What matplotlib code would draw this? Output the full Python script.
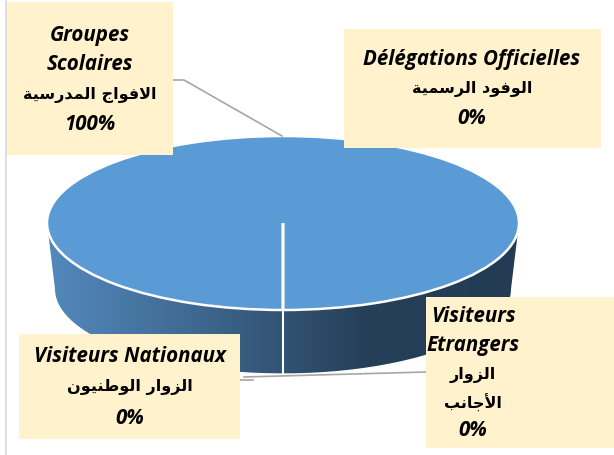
import numpy as np
import matplotlib
matplotlib.use("Agg")
import matplotlib.pyplot as plt
from matplotlib.path import Path
from matplotlib.transforms import Affine2D
from matplotlib.colors import LinearSegmentedColormap

# data
categories_fr = ["Groupes\nScolaires", "Délégations Officielles", "Visiteurs\nEtrangers", "Visiteurs Nationaux"]
categories_ar = ["الافواج المدرسية", "الوفود الرسمية", "الزوار\nالأجانب", "الزوار الوطنيون"]
values = [100, 0, 0, 0]

# --- tiny arabic shaper (matplotlib has no text shaping) ---
FORMS = {  # isolated, final, initial, medial
    "ا": (0xFE8D, 0xFE8E), "أ": (0xFE83, 0xFE84),
    "ب": (0xFE8F, 0xFE90, 0xFE91, 0xFE92), "ة": (0xFE93, 0xFE94),
    "ج": (0xFE9D, 0xFE9E, 0xFE9F, 0xFEA0), "د": (0xFEA9, 0xFEAA),
    "ر": (0xFEAD, 0xFEAE), "ز": (0xFEAF, 0xFEB0),
    "س": (0xFEB1, 0xFEB2, 0xFEB3, 0xFEB4), "ط": (0xFEC1, 0xFEC2, 0xFEC3, 0xFEC4),
    "ف": (0xFED1, 0xFED2, 0xFED3, 0xFED4), "ل": (0xFEDD, 0xFEDE, 0xFEDF, 0xFEE0),
    "م": (0xFEE1, 0xFEE2, 0xFEE3, 0xFEE4), "ن": (0xFEE5, 0xFEE6, 0xFEE7, 0xFEE8),
    "و": (0xFEED, 0xFEEE), "ي": (0xFEF1, 0xFEF2, 0xFEF3, 0xFEF4),
}
LAMALEF = {"ا": (0xFEFB, 0xFEFC), "أ": (0xFEF7, 0xFEF8)}


def shape(line):
    chars = list(line)
    out = []
    i = 0
    while i < len(chars):
        c = chars[i]
        prev = chars[i - 1] if i > 0 else " "
        joins_prev = prev in FORMS and len(FORMS[prev]) == 4 and c in FORMS
        if c == "ل" and i + 1 < len(chars) and chars[i + 1] in LAMALEF:
            out.append(chr(LAMALEF[chars[i + 1]][1 if joins_prev else 0]))
            i += 2
            continue
        if c not in FORMS:
            out.append(c)
            i += 1
            continue
        f = FORMS[c]
        nxt = chars[i + 1] if i + 1 < len(chars) else " "
        joins_next = len(f) == 4 and nxt in FORMS
        if joins_prev and joins_next:
            out.append(chr(f[3]))
        elif joins_prev:
            out.append(chr(f[1]))
        elif joins_next:
            out.append(chr(f[2]))
        else:
            out.append(chr(f[0]))
        i += 1
    return "".join(out)[::-1]


def ar(text):
    return "\n".join(shape(l) for l in text.split("\n"))


fig = plt.figure(figsize=(6.14, 4.55), dpi=100)
ax = fig.add_axes([0, 0, 1, 1])
ax.set_xlim(0, 614)
ax.set_ylim(455, 0)
ax.axis("off")

cx, cy, rx, ry, depth = 283, 223, 236, 87, 66
top_tr = Affine2D().scale(rx, -ry).translate(cx, cy) + ax.transData

# side wall with gradient
t = np.linspace(0, np.pi, 100)
bot_rx = rx - 8
lower = np.column_stack([cx - bot_rx * np.cos(t), cy + depth + ry * 0.97 * np.sin(t)])
upper = np.column_stack([cx + rx * np.cos(t), cy + ry * np.sin(t) * 0.2])
side = Path(np.vstack([[[cx - rx, cy]], lower, [[cx + rx, cy]], upper[1:]]))
cmap = LinearSegmentedColormap.from_list("side", ["#5389BD", "#3D668D", "#26405A", "#233B54"])
grad = np.linspace(0, 1, 256).reshape(1, -1)
im = ax.imshow(grad, cmap=cmap, extent=(cx - rx, cx + rx, cy + depth + ry, cy), aspect="auto", zorder=1)
im.set_clip_path(side, transform=ax.transData)
ax.plot([cx, cx], [cy + ry, cy + ry + depth], color="white", lw=1.5, zorder=2)

# top face
wedges, _ = ax.pie(values, startangle=270, counterclock=False, colors=["#5B9BD5"] * 4,
                   wedgeprops=dict(edgecolor="white", linewidth=1.8))
for w in wedges:
    w.set_transform(top_tr)
    w.set_zorder(3)
ax.set_xlim(0, 614)
ax.set_ylim(455, 0)
ax.set_aspect("auto")

# leader lines
ax.plot([173, 184, 282], [80, 80, 136], color="#A6A6A6", lw=1.2, zorder=4)
ax.plot([426, 244], [372, 377], color="#A6A6A6", lw=1.2, zorder=4)
ax.plot([240, 253], [380, 380], color="#A6A6A6", lw=1.2, zorder=4)

# chart frame line on the left
ax.plot([6, 6], [0, 455], color="#D9D9D9", lw=1.2, zorder=0)

box = "#FFF2CC"


def label(x0, y0, x1, y1, lines):
    ax.add_patch(plt.Rectangle((x0, y0), x1 - x0, y1 - y0, facecolor=box, edgecolor="none", zorder=5))
    for text, xx, yy, is_ar in lines:
        if is_ar:
            ax.text(xx, yy, text, ha="center", va="center", fontsize=11.5, fontweight="bold",
                    family="DejaVu Sans", zorder=6)
        else:
            ax.text(xx, yy, text, ha="center", va="center", fontsize=14.8, fontweight="bold",
                    fontstyle="italic", family="Open Sans", zorder=6)


label(7, 2, 173, 155, [("Groupes", 90, 36, False), ("Scolaires", 90, 65, False),
                       (ar(categories_ar[0]), 90, 95, True), (f"{values[0]}%", 90, 124, False)])
label(344, 29, 601, 148, [("Délégations Officielles", 472, 60, False), (ar(categories_ar[1]), 472, 89, True),
                          (f"{values[1]}%", 472, 119, False)])
label(426, 297, 614, 448, [("Visiteurs", 473, 317, False), ("Etrangers", 473, 346, False),
                           (ar("الزوار"), 473, 375, True), (ar("الأجانب"), 473, 403, True),
                           (f"{values[2]}%", 473, 431, False)])
label(19, 334, 240, 439, [("Visiteurs Nationaux", 130, 357, False), (ar(categories_ar[3]), 130, 387, True),
                          (f"{values[3]}%", 130, 418, False)])

fig.savefig("out.png", dpi=100)
